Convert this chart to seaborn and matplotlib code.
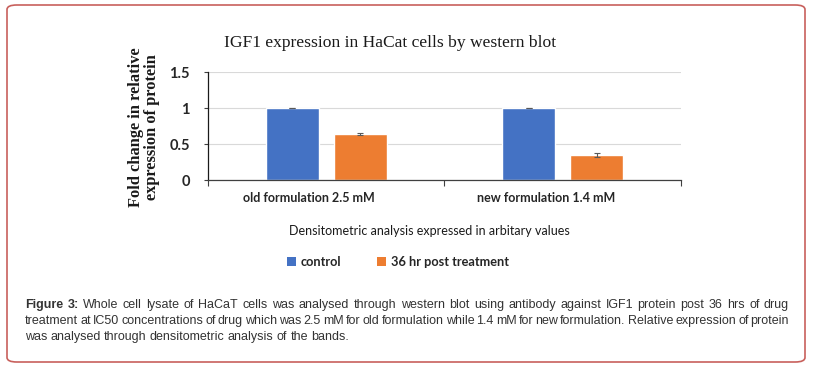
import matplotlib
matplotlib.use("Agg")
import matplotlib.pyplot as plt
import matplotlib.transforms as mtransforms
from matplotlib.patches import FancyBboxPatch, Patch
import seaborn as sns
import pandas as pd

# ---- data ----
groups = ["old formulation 2.5 mM", "new formulation 1.4 mM"]
series = ["control", "36 hr post treatment"]
control_vals = [1.0, 1.0]
treated_vals = [0.64, 0.35]
control_err = [0.0, 0.0]
treated_err = [0.015, 0.03]
yticks = [0, 0.5, 1, 1.5]
ytick_labels = ["0", "0.5", "1", "1.5"]

title = "IGF1 expression in HaCat cells by western blot"
ylabel = "Fold change in relative\nexpression of protein"
xlabel = "Densitometric analysis expressed in arbitary values"
caption_lines = [
    "Figure 3: Whole cell lysate of HaCaT cells was analysed through western blot using antibody against IGF1 protein post 36 hrs of drug",
    "treatment at IC50 concentrations of drug which was 2.5 mM for old formulation while 1.4 mM for new formulation. Relative expression of protein",
    "was analysed through densitometric analysis of the bands.",
]

colors = ["#4472C4", "#ED7D31"]

df = pd.DataFrame({
    "group": groups * 2,
    "series": [series[0]] * 2 + [series[1]] * 2,
    "value": control_vals + treated_vals,
})

sns.set_theme(style="white")
plt.rcParams["font.family"] = ["Lato", "DejaVu Sans"]

W, H = 820, 372
fig = plt.figure(figsize=(W / 100, H / 100), dpi=100)
fig.patch.set_facecolor("white")

def fx(px):
    return px / W

def fy(py):
    return 1 - py / H

# border
border = FancyBboxPatch((fx(7), fy(362)), fx(805) - fx(7), fy(5) - fy(362),
                        boxstyle="round,pad=0,rounding_size=0.012",
                        transform=fig.transFigure, fill=False,
                        edgecolor="#c8605c", linewidth=1.2)
fig.patches.append(border)

ax = fig.add_axes([fx(208), fy(180), fx(681) - fx(208), fy(72) - fy(180)])
sns.barplot(data=df, x="group", y="value", hue="series", palette=colors,
            width=0.576, gap=0.22, errorbar=None, ax=ax, legend=False,
            saturation=1)

for cont, errs in zip(ax.containers, [control_err, treated_err]):
    xs = [p.get_x() + p.get_width() / 2 for p in cont]
    ys = [p.get_height() for p in cont]
    ax.errorbar(xs, ys, yerr=errs, fmt="none", ecolor="#595959",
                capsize=2, elinewidth=0.8, capthick=0.8)

ax.set_ylim(0, 1.5)
ax.set_xlim(-0.5, 1.5)
ax.set_yticks(yticks)
ax.set_yticklabels(ytick_labels, fontsize=10.5, fontweight="bold", color="#262626")
ax.yaxis.grid(True, color="#d9d9d9", linewidth=0.8)
ax.set_axisbelow(True)
ax.tick_params(axis="y", length=3, width=0.8, color="#404040", pad=10, left=True)
ax.set_xticks([0, 1])
ax.set_xticklabels(groups, fontsize=9, fontweight="bold", color="#262626")
ax.tick_params(axis="x", length=0, pad=9)
offset = mtransforms.ScaledTranslation(-17 / 100, 0, fig.dpi_scale_trans)
for lab in ax.get_xticklabels():
    lab.set_transform(lab.get_transform() + offset)
ax.set_xticks([-0.5, 0.5, 1.5], minor=True)
ax.tick_params(axis="x", which="minor", length=4, width=0.8, color="#404040",
               bottom=True, direction="out")
ax.set_xlabel("")
ax.set_ylabel("")
for s in ["top", "right"]:
    ax.spines[s].set_visible(False)
ax.spines["left"].set_color("#1a1a1a")
ax.spines["left"].set_linewidth(0.9)
ax.spines["bottom"].set_color("#404040")
ax.spines["bottom"].set_linewidth(0.9)

fig.text(fx(390), fy(43), title, ha="center", va="center",
         family=["Liberation Serif", "DejaVu Serif"], fontsize=12.6, color="#1a1a1a")
fig.text(fx(144), fy(127), ylabel, ha="center", va="center", rotation=90,
         family=["Liberation Serif", "DejaVu Serif"], fontsize=11.8,
         fontweight="bold", color="#1a1a1a", linespacing=1.0)
fig.text(fx(429), fy(231), xlabel, ha="center", va="center", fontsize=9,
         color="#1a1a1a")

handles = [Patch(facecolor=c, edgecolor="none") for c in colors]
fig.legend(handles, series, loc="center", bbox_to_anchor=(fx(398), fy(262)),
           ncol=2, frameon=False, handlelength=0.7,
           handleheight=0.7, handletextpad=0.4, columnspacing=2.8,
           prop={"weight": "bold", "size": 9.2})

# caption, justified
cap_family = ["Liberation Sans Narrow", "Liberation Sans"]
cap_size = 9.0
x0, x1 = 25, 789
line_ys = [305, 321, 337]
fig.canvas.draw()
renderer = fig.canvas.get_renderer()
for li, (line, ly) in enumerate(zip(caption_lines, line_ys)):
    words = line.split(" ")
    texts = []
    for wi, w in enumerate(words):
        bold = (li == 0 and wi < 2)
        t = fig.text(0, fy(ly), w, ha="left", va="center", family=cap_family,
                     fontsize=cap_size, color="#333333",
                     fontweight="bold" if bold else "normal")
        texts.append(t)
    widths = [t.get_window_extent(renderer).width for t in texts]
    if li < len(caption_lines) - 1:
        space = (x1 - x0 - sum(widths)) / (len(words) - 1)
    else:
        space = 3.2
    x = x0
    for t, w in zip(texts, widths):
        t.set_x(fx(x))
        x += w + space

fig.savefig("out.png", dpi=100, facecolor="white")
